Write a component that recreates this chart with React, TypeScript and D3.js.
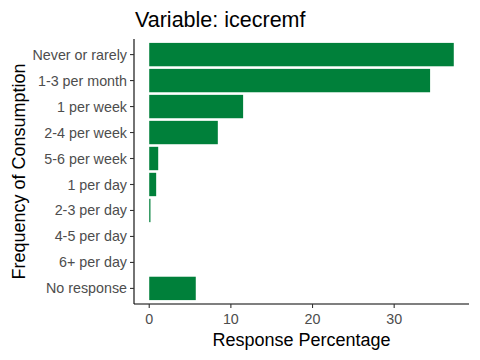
import React from "react";
import * as d3 from "d3";

const categories = [
  "Never or rarely",
  "1-3 per month",
  "1 per week",
  "2-4 per week",
  "5-6 per week",
  "1 per day",
  "2-3 per day",
  "4-5 per day",
  "6+ per day",
  "No response",
];
const percents = [37.3, 34.4, 11.5, 8.4, 1.1, 0.85, 0.15, 0, 0, 5.7];
const xTicks = [0, 10, 20, 30];

const width = 480;
const height = 360;
const margin = { top: 39, right: 11, bottom: 56, left: 134 };
const font = "'Liberation Sans', Arial, sans-serif";
const barColor = "#00803A";

export default function App() {
  const maxV = d3.max(percents) as number;
  const pad = maxV * 0.05;
  const x = d3
    .scaleLinear()
    .domain([0 - pad, maxV + pad])
    .range([margin.left, width - margin.right]);

  const y = d3
    .scalePoint()
    .domain(categories)
    .range([margin.top, height - margin.bottom])
    .padding(0.6);
  const barH = y.step() * 0.9;
  const bottom = height - margin.bottom;

  return (
    <div style={{ position: "absolute", left: 0, top: 0 }}>
      <svg width={width} height={height} style={{ display: "block", background: "#fff" }}>
        {categories.map((c, i) => (
          <rect
            key={c}
            x={x(0)}
            y={(y(c) as number) - barH / 2}
            width={Math.max(0, x(percents[i]) - x(0))}
            height={barH}
            fill={barColor}
          />
        ))}

        {/* axis lines */}
        <line x1={margin.left} x2={margin.left} y1={margin.top} y2={bottom} stroke="#000" strokeWidth={1.1} />
        <line x1={margin.left} x2={width - margin.right} y1={bottom} y2={bottom} stroke="#000" strokeWidth={1.1} />

        {/* y ticks */}
        {categories.map((c) => (
          <g key={c} transform={`translate(0,${y(c)})`}>
            <line x1={margin.left - 4} x2={margin.left} stroke="#333" strokeWidth={1.1} />
            <text
              x={margin.left - 7}
              dy="0.35em"
              textAnchor="end"
              fontFamily={font}
              fontSize={14.3}
              fill="#4D4D4D"
            >
              {c}
            </text>
          </g>
        ))}

        {/* x ticks */}
        {xTicks.map((t) => (
          <g key={t} transform={`translate(${x(t)},0)`}>
            <line y1={bottom} y2={bottom + 4} stroke="#333" strokeWidth={1.1} />
            <text y={bottom + 20} textAnchor="middle" fontFamily={font} fontSize={14.3} fill="#4D4D4D">
              {t}
            </text>
          </g>
        ))}

        <text
          x={(margin.left + width - margin.right) / 2}
          y={346}
          textAnchor="middle"
          fontFamily={font}
          fontSize={18}
          fill="#000"
        >
          Response Percentage
        </text>
        <text
          transform={`translate(25,${(margin.top + bottom) / 2}) rotate(-90)`}
          textAnchor="middle"
          fontFamily={font}
          fontSize={18}
          fill="#000"
        >
          Frequency of Consumption
        </text>
        <text x={margin.left + 1} y={27} fontFamily={font} fontSize={21.5} fill="#000">
          Variable: icecremf
        </text>
      </svg>
    </div>
  );
}
